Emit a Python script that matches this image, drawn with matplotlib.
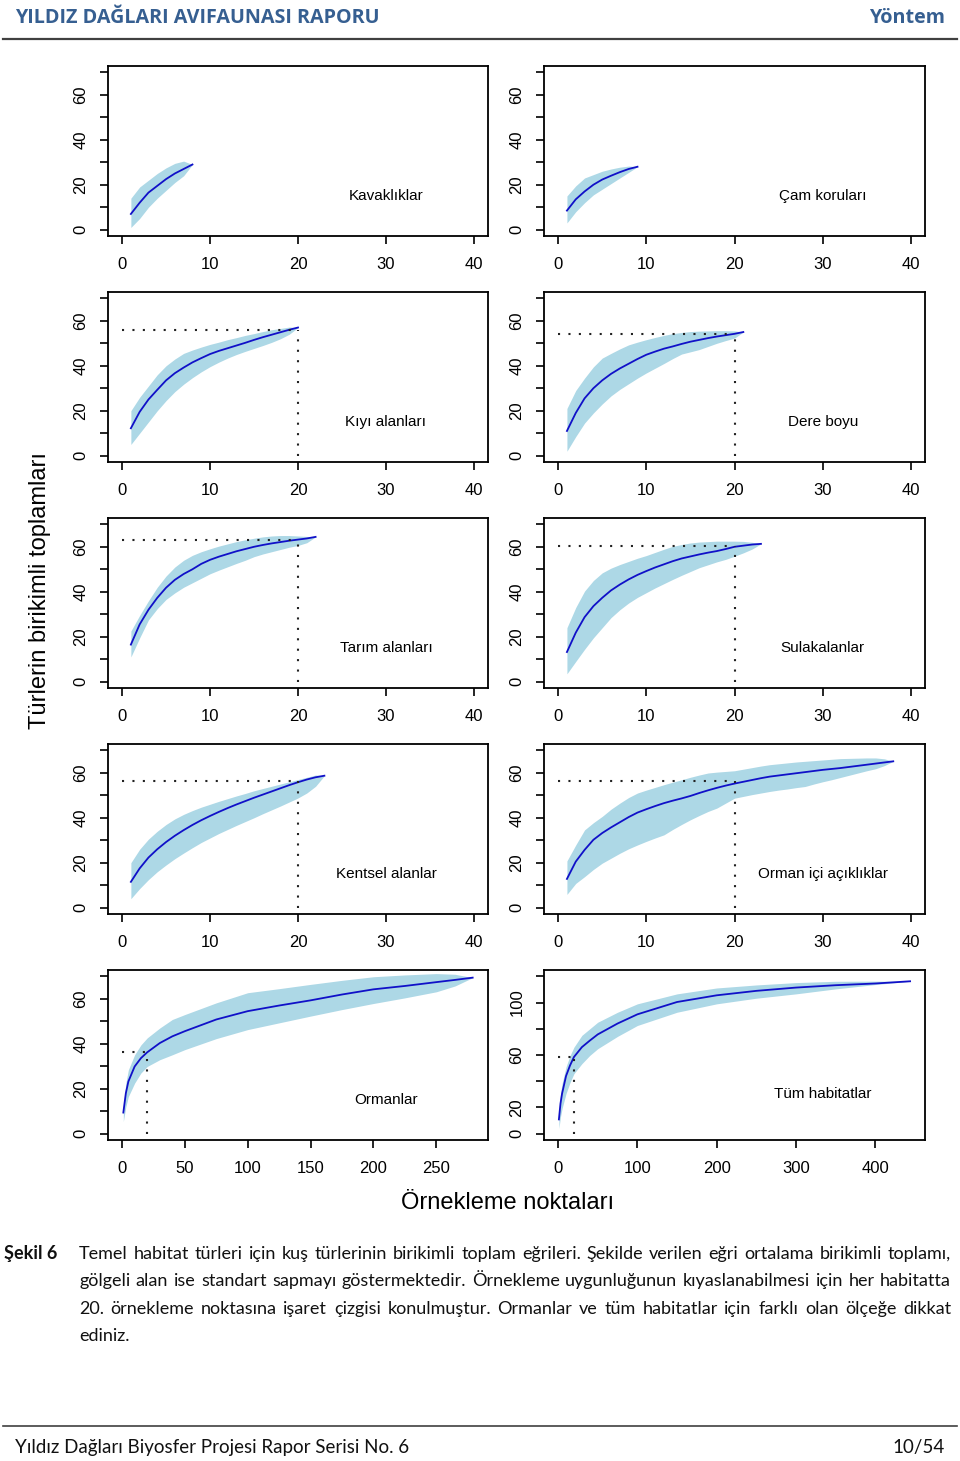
import numpy as np
import matplotlib
matplotlib.use('Agg')
import matplotlib.pyplot as plt

W, H = 960, 1461

# mean species accumulation and +/- sd band, sample points 1..n
kavak_mean = [7, 12, 16.5, 19.5, 22.5, 25, 27, 29]
kavak_upper = [14, 19, 22, 25, 27.5, 29.5, 30.5, 29]
kavak_lower = [1, 5, 10, 14, 17.5, 21, 24, 29]

cam_mean = [8.5, 13.5, 17, 20, 22.3, 24, 25.6, 27, 28]
cam_upper = [15, 19.5, 23, 24.5, 26, 27, 27.8, 28.3, 28]
cam_lower = [3, 8, 12, 15.5, 18, 20.5, 23, 25.5, 28]

kiyi_mean = [12.2, 19.5, 25, 29.3, 33.5, 36.7, 39.2, 41.5, 43.4, 45.2, 46.6, 47.8, 49, 50.2,
             51.5, 52.7, 53.8, 54.9, 56, 57]
kiyi_upper = [20, 26, 31, 36, 40, 43, 45.5, 47, 48.3, 49.5, 50.5, 51.6, 52.5, 53.5, 54.3, 55.2,
              56, 56.6, 57.2, 57]
kiyi_lower = [5, 10, 15, 20, 24.5, 28.5, 31.8, 34.7, 37.3, 39.6, 41.6, 43.4, 45, 46.4, 47.7, 49,
              50.4, 52, 54, 57]

dere_mean = [11, 19, 25.5, 30, 33.5, 36.4, 38.8, 40.9, 43, 44.9, 46.3, 47.6, 48.6, 49.7, 50.7,
             51.5, 52.3, 53, 53.6, 54.2, 55]
dere_upper = [21, 29, 34.5, 39.5, 43.4, 45.5, 47.5, 49.3, 50.5, 51.6, 52.6, 53.5, 54.3, 54.8,
              55.2, 55.4, 55.5, 55.6, 55.6, 55.5, 55]
dere_lower = [2, 8.5, 14.5, 19, 23, 26.6, 29.5, 32, 34.5, 36.8, 38.9, 41, 43.2, 45.2, 46.2, 47.2,
              48.6, 50, 51.2, 52.3, 55]

tarim_mean = [16.5, 25.5, 32, 37.3, 41.8, 45.3, 47.9, 50, 52.4, 54.2, 55.6, 56.8, 58, 59, 60,
              60.8, 61.5, 62.1, 62.7, 63.2, 63.7, 64.4]
tarim_upper = [22.5, 29.5, 36, 42, 47, 51, 54, 56.2, 57.8, 59.1, 60.3, 61.3, 62.3, 63.1,
               63.8, 64.4, 64.8, 65, 65, 64.8, 64.6, 64.4]
tarim_lower = [11, 19.5, 27.5, 32.5, 36.6, 39.5, 42, 44, 46, 48, 49.6, 51.1, 52.6, 54, 55.6,
               56.8, 57.8, 58.8, 59.8, 60.6, 61.8, 64.4]

sulak_mean = [13.2, 21.8, 28.7, 33.6, 37.3, 40.6, 43.2, 45.5, 47.5, 49.2, 50.8, 52.2, 53.6, 54.8,
              55.7, 56.6, 57.4, 58.1, 59, 60, 60.5, 61, 61.3]
sulak_upper = [24, 33, 40.3, 45, 48.4, 50.5, 52.1, 53.5, 54.9, 56.1, 57.5, 58.9, 60.2, 61, 61.7,
               62.1, 62.3, 62.5, 62.5, 62.5, 62.4, 62, 61.3]
sulak_lower = [3.5, 9, 14.4, 19.5, 24, 28.5, 32, 35, 37.5, 39.6, 41.7, 43.6, 45.5, 47.3, 49,
               50.7, 52, 53.3, 54.4, 55.8, 57.3, 59, 61.3]

kent_mean = [11.5, 17.5, 22.3, 26, 29.2, 32, 34.5, 36.8, 38.9, 40.8, 42.6, 44.3, 45.9, 47.4,
             48.9, 50.3, 51.7, 53.1, 54.5, 55.8, 57, 58, 58.7]
kent_upper = [20, 26, 30.5, 34, 37, 39.5, 41.5, 43.2, 44.7, 46, 47.3, 48.5, 49.7, 50.8, 52, 53,
              54, 55, 56, 57, 58, 59, 58.7]
kent_lower = [4, 8.5, 12.5, 16, 19, 21.8, 24.3, 26.7, 29, 31, 33, 34.8, 36.6, 38.3, 40, 41.8,
              43.5, 45.2, 47, 48.8, 51, 54, 58.7]

acik_mean = [12.8, 20.5, 25.7, 30.2, 33.2, 35.7, 38, 40.3, 42.3, 43.8, 45.2, 46.5, 47.6, 48.6,
             49.7, 51, 52.2, 53.3, 54.3, 55.2, 56, 56.8, 57.6, 58.3, 58.8, 59.3, 59.8, 60.3,
             60.8, 61.3, 61.7, 62.1, 62.6, 63.1, 63.6, 64.1, 64.6, 65.1]
acik_upper = [20.8, 27.9, 34.6, 37.8, 40.6, 43.8, 46.5, 49, 51, 52.3, 53.5, 54.7, 55.8, 56.9,
              58, 59, 59.9, 60.3, 60.6, 60.9, 61.6, 62.3, 63, 63.6, 64, 64.4, 64.8, 65.1, 65.4,
              65.7, 66, 66.3, 66.4, 66.5, 66.6, 66.6, 66.2, 65.1]
acik_lower = [5.9, 10.8, 13.8, 17, 19.8, 22, 24.2, 26.2, 27.9, 29.5, 31, 32.4, 34.8, 37, 39.1,
              41, 42.8, 44.3, 46.5, 48.7, 49.5, 50.3, 51, 51.7, 52.3, 52.8, 53.4, 53.9, 55, 56,
              56.9, 57.9, 58.9, 59.9, 60.9, 61.8, 63.2, 65.1]

orman_x = [1, 3, 5, 10, 15, 20, 30, 40, 50, 75, 100, 125, 150, 175, 200, 225, 250, 265, 279]
orman_mean = [9.4, 18, 23.2, 29.9, 33.6, 36.2, 40.3, 43.3, 45.6, 50.8, 54.5, 57, 59.3, 61.9,
              64.2, 65.7, 67.4, 68.4, 69.4]
orman_upper = [12, 22.5, 28.4, 35.1, 39.5, 42.6, 47, 50.8, 53, 58.2, 62.7, 64.5, 66.4, 68.2,
               69.8, 70.6, 71.2, 70.9, 69.4]
orman_lower = [5.4, 12, 16.5, 22.5, 27, 29.9, 32.9, 35.1, 37.4, 42.3, 46.3, 49.3, 52.3, 55.2,
               57.9, 60.4, 63.1, 65.7, 69.4]

tum_x = [1, 3, 5, 10, 15, 20, 30, 40, 50, 75, 100, 150, 200, 250, 300, 350, 400, 444]
tum_mean = [10.9, 23, 30.6, 44, 52, 58.5, 66, 71, 75.7, 84, 91, 100.4, 105.5, 108.9, 111.4,
            113.2, 114.5, 116.2]
tum_upper = [16.7, 30.6, 38.2, 51, 59.5, 66, 75, 80, 85, 92.6, 99, 106.6, 111.1, 113.4, 115.2,
             116.2, 116.3, 116.2]
tum_lower = [4, 13, 19.2, 30.6, 39, 45.8, 53.4, 59.7, 64.8, 74.2, 82.5, 92.6, 99, 103.3, 106.6,
             110.4, 113.7, 116.2]

# species count at the 20th sampling point (dotted guide)
mark_y = {'Kıyı alanları': 56, 'Dere boyu': 54.2, 'Tarım alanları': 63.2,
          'Sulakalanlar': 60.2, 'Kentsel alanlar': 56.4, 'Orman içi açıklıklar': 56.2,
          'Ormanlar': 36.3, 'Tüm habitatlar': 58.7}

caption_lines = [
    'Temel habitat türleri için kuş türlerinin birikimli toplam eğrileri. Şekilde verilen eğri ortalama birikimli toplamı,',
    'gölgeli alan ise standart sapmayı göstermektedir. Örnekleme uygunluğunun kıyaslanabilmesi için her habitatta',
    '20. örnekleme noktasına işaret çizgisi konulmuştur. Ormanlar ve tüm habitatlar için farklı olan ölçeğe dikkat',
    'ediniz.',
]

plt.rcParams['font.family'] = ['Liberation Sans', 'DejaVu Sans']

fig = plt.figure(figsize=(W / 100, H / 100), dpi=100)


def fx(x):
    return x / W


def fy(y):
    return 1 - y / H


def rng(values):
    return list(range(1, len(values) + 1))


panels = [
    ('Kavaklıklar', rng(kavak_mean), kavak_mean, kavak_lower, kavak_upper),
    ('Çam koruları', rng(cam_mean), cam_mean, cam_lower, cam_upper),
    ('Kıyı alanları', rng(kiyi_mean), kiyi_mean, kiyi_lower, kiyi_upper),
    ('Dere boyu', rng(dere_mean), dere_mean, dere_lower, dere_upper),
    ('Tarım alanları', rng(tarim_mean), tarim_mean, tarim_lower, tarim_upper),
    ('Sulakalanlar', rng(sulak_mean), sulak_mean, sulak_lower, sulak_upper),
    ('Kentsel alanlar', rng(kent_mean), kent_mean, kent_lower, kent_upper),
    ('Orman içi açıklıklar', rng(acik_mean), acik_mean, acik_lower, acik_upper),
    ('Ormanlar', orman_x, orman_mean, orman_lower, orman_upper),
    ('Tüm habitatlar', tum_x, tum_mean, tum_lower, tum_upper),
]

col_left = [(108, 488), (544, 925)]
row_top = [66, 292, 518, 744, 970]
box_h = 170

for i, (name, x, mean, lower, upper) in enumerate(panels):
    x0, x1 = col_left[i % 2]
    top = row_top[i // 2]
    ax = fig.add_axes([fx(x0), fy(top + box_h), (x1 - x0) / W, box_h / H])

    if name == 'Ormanlar':
        xmax, ymax = 280, 70
        xticks = range(0, 300, 50)
        yticks, ylabels = range(0, 80, 10), ['0', '', '20', '', '40', '', '60', '']
        label_pos = (210, 15)
    elif name == 'Tüm habitatlar':
        xmax, ymax = 445, 120
        xticks = range(0, 500, 100)
        yticks, ylabels = range(0, 140, 20), ['0', '20', '', '60', '', '100', '']
        label_pos = (334, 30)
    else:
        xmax, ymax = 40, 70
        xticks = range(0, 50, 10)
        yticks, ylabels = range(0, 80, 10), ['0', '', '20', '', '40', '', '60', '']
        label_pos = (30, 15)

    ax.fill_between(x, lower, upper, color='#ADD8E6', lw=0)
    ax.plot(x, mean, color='#1010C8', lw=1.3)

    if name in mark_y:
        m = mark_y[name]
        ax.plot([0, 20], [m, m], color='#222222', lw=1.5, ls=(0, (1, 4)))
        ax.plot([20, 20], [0, m], color='#222222', lw=1.5, ls=(0, (1, 4)))

    ax.text(label_pos[0], label_pos[1], name, ha='center', va='center', fontsize=11)

    ax.set_xlim(-0.04 * xmax, 1.04 * xmax)
    ax.set_ylim(-0.04 * ymax, 1.04 * ymax)
    ax.set_xticks(list(xticks))
    ax.set_yticks(list(yticks))
    ax.set_yticklabels(ylabels, rotation=90, va='center')
    ax.tick_params(axis='both', direction='out', length=6, width=1.2, labelsize=12)
    ax.tick_params(axis='x', pad=9)
    ax.tick_params(axis='y', pad=8)
    for s in ax.spines.values():
        s.set_linewidth(1.3)

# axis titles shared by all panels
fig.text(fx(40), fy(591), 'Türlerin birikimli toplamları', rotation=90,
         ha='center', va='center', fontsize=17)
fig.text(fx(508), fy(1203), 'Örnekleme noktaları', ha='center', va='center', fontsize=17)

# page header
head_color = '#365F91'
fig.text(fx(15), fy(18), 'YILDIZ DAĞLARI AVIFAUNASI RAPORU', ha='left', va='center',
         fontsize=14.2, color=head_color, family='Open Sans', weight='bold')
fig.text(fx(945), fy(18), 'Yöntem', ha='right', va='center',
         fontsize=14.2, color=head_color, family='Open Sans', weight='bold')
fig.add_artist(plt.Line2D([fx(3), fx(957)], [fy(39), fy(39)], color='#404040', lw=1.6))

# caption, justified like the document text
renderer = fig.canvas.get_renderer()
cap_kw = dict(family='Lato', fontsize=13, color='#111111')


def justified(line, y, x0, x1, last=False):
    words = line.split()
    widths = []
    for w in words:
        t = fig.text(0, 0, w, **cap_kw)
        widths.append(t.get_window_extent(renderer).width)
        t.remove()
    space = 4.5
    if not last and len(words) > 1:
        space = (x1 - x0 - sum(widths)) / (len(words) - 1)
    x = x0
    for w, wd in zip(words, widths):
        fig.text(fx(x), fy(y), w, ha='left', va='center', **cap_kw)
        x += wd + space


fig.text(fx(4), fy(1254), 'Şekil 6', ha='left', va='center', family='Lato',
         fontsize=13, weight='bold', color='#111111')
for k, line in enumerate(caption_lines):
    justified(line, [1254, 1281, 1309, 1336][k], 79, 951, last=(k == len(caption_lines) - 1))

# page footer
fig.add_artist(plt.Line2D([fx(3), fx(957)], [fy(1426), fy(1426)], color='#404040', lw=1.2))
fig.text(fx(15), fy(1447), 'Yıldız Dağları Biyosfer Projesi Rapor Serisi No. 6', ha='left',
         va='center', family='Lato', fontsize=13.5, color='#111111')
fig.text(fx(945), fy(1447), '10/54', ha='right', va='center', family='Lato',
         fontsize=13.5, color='#111111')

fig.savefig('out.png', dpi=100)
plt.close(fig)
